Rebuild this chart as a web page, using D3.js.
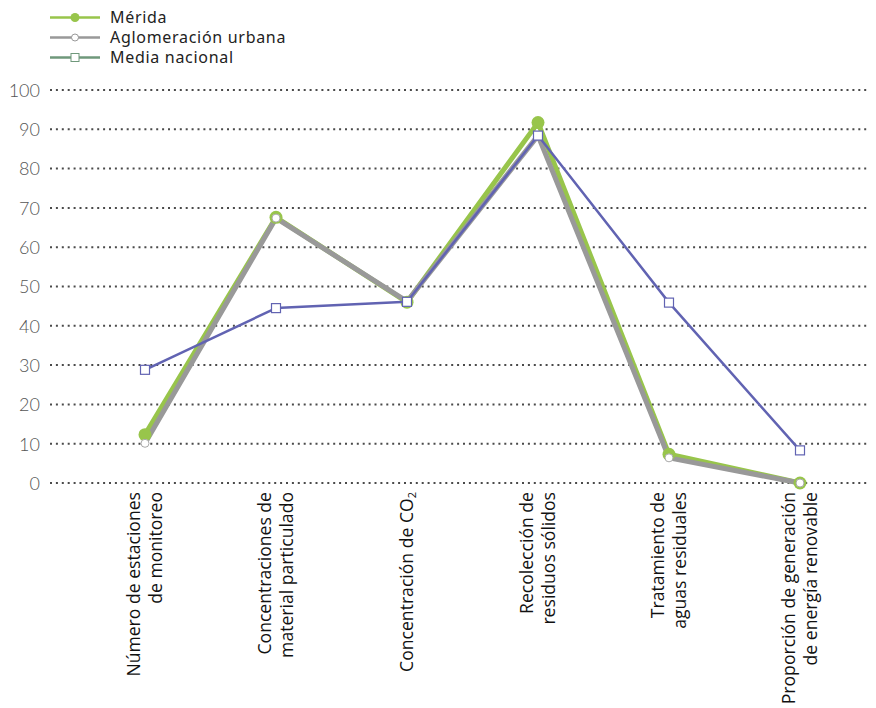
<!DOCTYPE html>
<html>
<head>
<meta charset="utf-8">
<script src="https://cdn.jsdelivr.net/npm/d3@7"></script>
<style>
  html, body { margin: 0; padding: 0; background: #fff; }
  svg { display: block; }
</style>
</head>
<body>
<svg id="chart" width="876" height="708"></svg>
<script>
// ---- data ----
const categories = [
  ["Número de estaciones", "de monitoreo"],
  ["Concentraciones de", "material particulado"],
  ["Concentración de CO|2"],
  ["Recolección de", "residuos sólidos"],
  ["Tratamiento de", "aguas residuales"],
  ["Proporción de generación", "de energía renovable"]
];
const seriesNames = ["Mérida", "Aglomeración urbana", "Media nacional"];
const meridaValues = [12.3, 67.6, 46.0, 91.7, 7.3, 0.0];
const aglomeracionValues = [10.1, 67.4, 46.2, 88.4, 6.4, 0.0];
const nacionalValues = [28.8, 44.5, 46.1, 88.4, 45.9, 8.3];
const yTicks = [0, 10, 20, 30, 40, 50, 60, 70, 80, 90, 100];

const svg = d3.select("#chart");

const x = d3.scalePoint().domain(d3.range(categories.length)).range([145, 800]);
const y = d3.scaleLinear().domain([0, 100]).range([483, 90]);

// grid lines
const grid = svg.append("g");
grid.selectAll("line").data(yTicks).join("line")
  .attr("x1", 50).attr("x2", 868)
  .attr("y1", d => y(d)).attr("y2", d => y(d))
  .attr("stroke", "#4a4a4a").attr("stroke-width", 2)
  .attr("stroke-dasharray", "2,3.9").attr("stroke-linecap", "butt");

// y axis labels via d3 axis
const yAxis = d3.axisLeft(y).tickValues(yTicks).tickSize(0).tickPadding(0);
const gy = svg.append("g").attr("transform", "translate(40,0)").call(yAxis);
gy.select(".domain").remove();
gy.selectAll("text")
  .attr("font-family", "Lato, 'Open Sans', sans-serif")
  .attr("font-size", 18).attr("font-weight", 300)
  .attr("fill", "#555").attr("dy", "0.35em");

// category labels
const lineH = 22;
const cat = svg.append("g");
categories.forEach((lines, i) => {
  const n = lines.length;
  const t = cat.append("text")
    .attr("transform", `translate(${x(i)},492) rotate(-90)`)
    .attr("text-anchor", "end")
    .attr("font-family", "'Open Sans', 'Noto Sans', sans-serif")
    .attr("font-size", 17.6).attr("fill", "#111");
  lines.forEach((ln, j) => {
    const off = (j - (n - 1) / 2) * lineH + 6;
    if (ln.includes("|")) {
      const [a, b] = ln.split("|");
      const tt = t.append("tspan").attr("x", 0).attr("y", off);
      tt.append("tspan").text(a);
      tt.append("tspan").attr("font-size", 11).attr("dy", 3).text(b);
    } else {
      t.append("tspan").attr("x", 0).attr("y", off).text(ln);
    }
  });
});

const lineGen = d3.line().x((d, i) => x(i)).y(d => y(d));

const green = "#98c54b", gray = "#999999", purple = "#6163b2", legendNat = "#6f987b";

// Mérida line
svg.append("path").datum(meridaValues).attr("d", lineGen)
  .attr("fill", "none").attr("stroke", green).attr("stroke-width", 5)
  .attr("stroke-linejoin", "round");
// Aglomeración line
svg.append("path").datum(aglomeracionValues).attr("d", lineGen)
  .attr("fill", "none").attr("stroke", gray).attr("stroke-width", 5)
  .attr("stroke-linejoin", "round");
// Mérida markers
svg.append("g").selectAll("circle").data(meridaValues).join("circle")
  .attr("cx", (d, i) => x(i)).attr("cy", d => y(d)).attr("r", 6.5)
  .attr("fill", green);
// Aglomeración markers
svg.append("g").selectAll("circle").data(aglomeracionValues).join("circle")
  .attr("cx", (d, i) => x(i)).attr("cy", d => y(d)).attr("r", 4)
  .attr("fill", "#fff").attr("stroke", "#aaa").attr("stroke-width", 1);
// Nacional line
svg.append("path").datum(nacionalValues).attr("d", lineGen)
  .attr("fill", "none").attr("stroke", purple).attr("stroke-width", 2.5)
  .attr("stroke-linejoin", "round");
svg.append("g").selectAll("rect").data(nacionalValues).join("rect")
  .attr("x", (d, i) => x(i) - 4.5).attr("y", d => y(d) - 4.5)
  .attr("width", 9).attr("height", 9)
  .attr("fill", "#fff").attr("stroke", purple).attr("stroke-width", 1.2);

// legend
const legend = svg.append("g");
const legendColors = [green, gray, legendNat];
seriesNames.forEach((name, i) => {
  const g = legend.append("g").attr("transform", `translate(0,${17.5 + i * 20})`);
  g.append("line").attr("x1", 50).attr("x2", 100).attr("y1", 0).attr("y2", 0)
    .attr("stroke", legendColors[i]).attr("stroke-width", 2.5);
  if (i === 0) {
    g.append("circle").attr("cx", 75).attr("cy", 0).attr("r", 4.5).attr("fill", green);
  } else if (i === 1) {
    g.append("circle").attr("cx", 75).attr("cy", 0).attr("r", 3.5)
      .attr("fill", "#fff").attr("stroke", gray).attr("stroke-width", 1);
  } else {
    g.append("rect").attr("x", 71).attr("y", -4).attr("width", 8).attr("height", 8)
      .attr("fill", "#fff").attr("stroke", legendNat).attr("stroke-width", 1);
  }
  g.append("text").attr("x", 110).attr("y", 0).attr("dy", "0.35em")
    .attr("font-family", "'Noto Sans', sans-serif").attr("font-size", 16)
    .attr("letter-spacing", 0.7)
    .attr("fill", "#222").text(name);
});
</script>
</body>
</html>
